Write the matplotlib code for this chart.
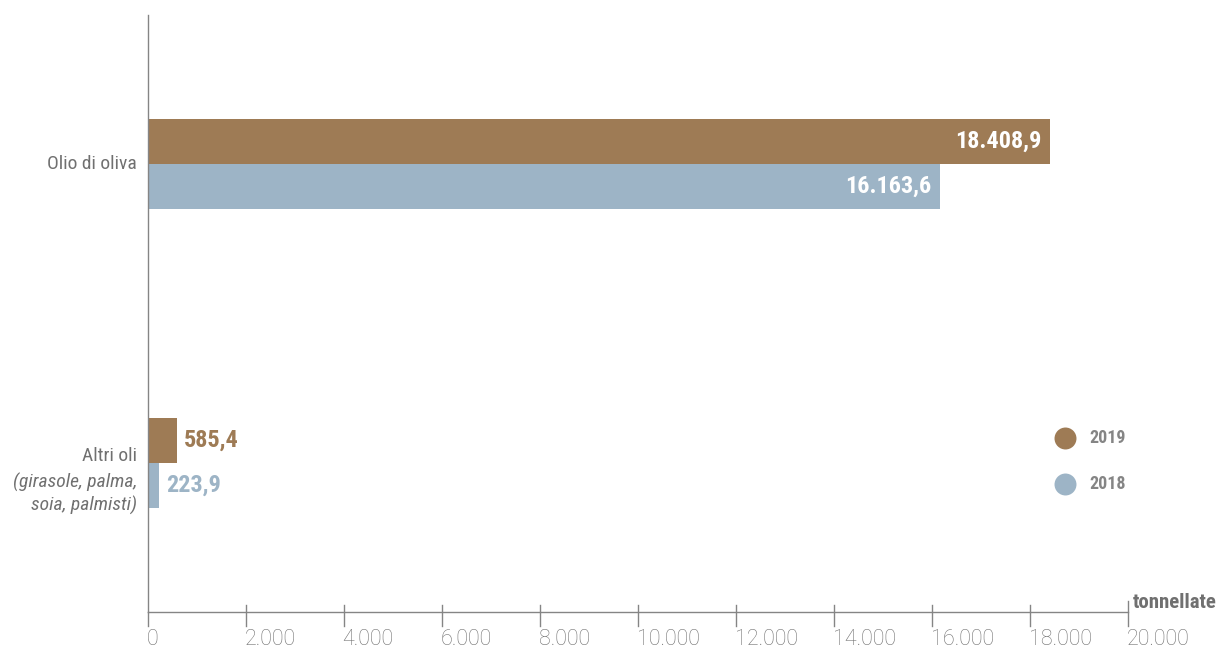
import matplotlib
matplotlib.use("Agg")
import matplotlib.pyplot as plt
import matplotlib.transforms as mtrans

categories = ["Olio di oliva", "Altri oli"]
sub_labels = ["", "(girasole, palma,\nsoia, palmisti)"]
series_names = ["2019", "2018"]
values_2019 = [18408.9, 585.4]
values_2018 = [16163.6, 223.9]
xticks = [0, 2000, 4000, 6000, 8000, 10000, 12000, 14000, 16000, 18000, 20000]
xtick_labels = ["0", "2.000", "4.000", "6.000", "8.000", "10.000", "12.000",
                "14.000", "16.000", "18.000", "20.000"]
unit_label = "tonnellate"

BROWN = "#9e7b55"
BLUE = "#9db4c6"
GREY = "#858585"
TXT = "#707070"
COND = "Roboto Condensed"


def fmt(v):
    s = f"{v:,.1f}"
    return s.replace(",", "X").replace(".", ",").replace("X", ".")


fig = plt.figure(figsize=(12.3, 6.51), dpi=100)
ax = fig.add_axes([148/1230, 39/651, 980/1230, 597/651])

pos = [0, 1]
h = 0.1505
ax.barh([p - h/2 for p in pos], values_2019, height=h, color=BROWN, zorder=2)
ax.barh([p + h/2 for p in pos], values_2018, height=h, color=BLUE, zorder=2)

ax.set_xlim(0, 20000)
ax.set_ylim(1.499, -0.498)

for spine in ["top", "right"]:
    ax.spines[spine].set_visible(False)
ax.spines["left"].set_color(GREY)
ax.spines["bottom"].set_color(GREY)
ax.spines["left"].set_linewidth(1)
ax.spines["bottom"].set_linewidth(1)
ax.set_yticks([])
ax.tick_params(axis="x", length=0, pad=12)
ax.set_xticks(xticks)
ax.set_xticklabels(xtick_labels, color="#727272", fontsize=15.5,
                   fontfamily="Roboto", fontweight="light")
offset = mtrans.ScaledTranslation(-1/72, 0, fig.dpi_scale_trans)
for lab in ax.get_xticklabels():
    lab.set_horizontalalignment("left")
    lab.set_transform(lab.get_transform() + offset)

# custom tick marks
tr = ax.get_xaxis_transform()
for t in xticks:
    up = 0 if t == 0 else 7/597
    if t == 20000:
        up = 11/597
    ax.plot([t, t], [up, -14/597], color=GREY, lw=1, transform=tr, clip_on=False)

# value labels
for vals, off, col in [(values_2019, -h/2, BROWN), (values_2018, h/2, BLUE)]:
    for p, v in zip(pos, vals):
        if v > 5000:
            ax.annotate(fmt(v), (v, p + off), xytext=(-6, 0), textcoords="offset points",
                        ha="right", va="center", color="white", fontsize=17.5,
                        fontfamily=COND, fontweight="bold", zorder=3)
        else:
            ax.annotate(fmt(v), (v, p + off), xytext=(5.5, 0), textcoords="offset points",
                        ha="left", va="center", color=col, fontsize=17.5,
                        fontfamily=COND, fontweight="bold", zorder=3)

# category labels
for p, c, s in zip(pos, categories, sub_labels):
    if s:
        ax.annotate(c, (0, p), xytext=(-8, 5), textcoords="offset points",
                    ha="right", va="center", color=TXT, fontsize=14,
                    fontfamily=COND, annotation_clip=False)
        ax.annotate(s, (0, p), xytext=(-8, -7), textcoords="offset points",
                    ha="right", va="top", color=TXT, fontsize=14,
                    fontfamily=COND, fontstyle="italic", linespacing=1.32,
                    annotation_clip=False)
    else:
        ax.annotate(c, (0, p), xytext=(-8, 0), textcoords="offset points",
                    ha="right", va="center", color=TXT, fontsize=14,
                    fontfamily=COND, annotation_clip=False)

# unit label
ax.text(1.005, 0.0, unit_label, transform=ax.transAxes, ha="left", va="bottom",
        color=TXT, fontsize=15, fontfamily=COND, fontweight="bold")

# legend
for name, col, yy in zip(series_names, [BROWN, BLUE], [0.2915, 0.2144]):
    ax.scatter([0.9357], [yy], s=250, color=col, transform=ax.transAxes,
               clip_on=False, zorder=3, linewidths=0)
    ax.text(0.961, yy, name, transform=ax.transAxes, ha="left", va="center",
            color=GREY, fontsize=13, fontfamily=COND, fontweight="bold")

fig.savefig("out.png", dpi=100)
